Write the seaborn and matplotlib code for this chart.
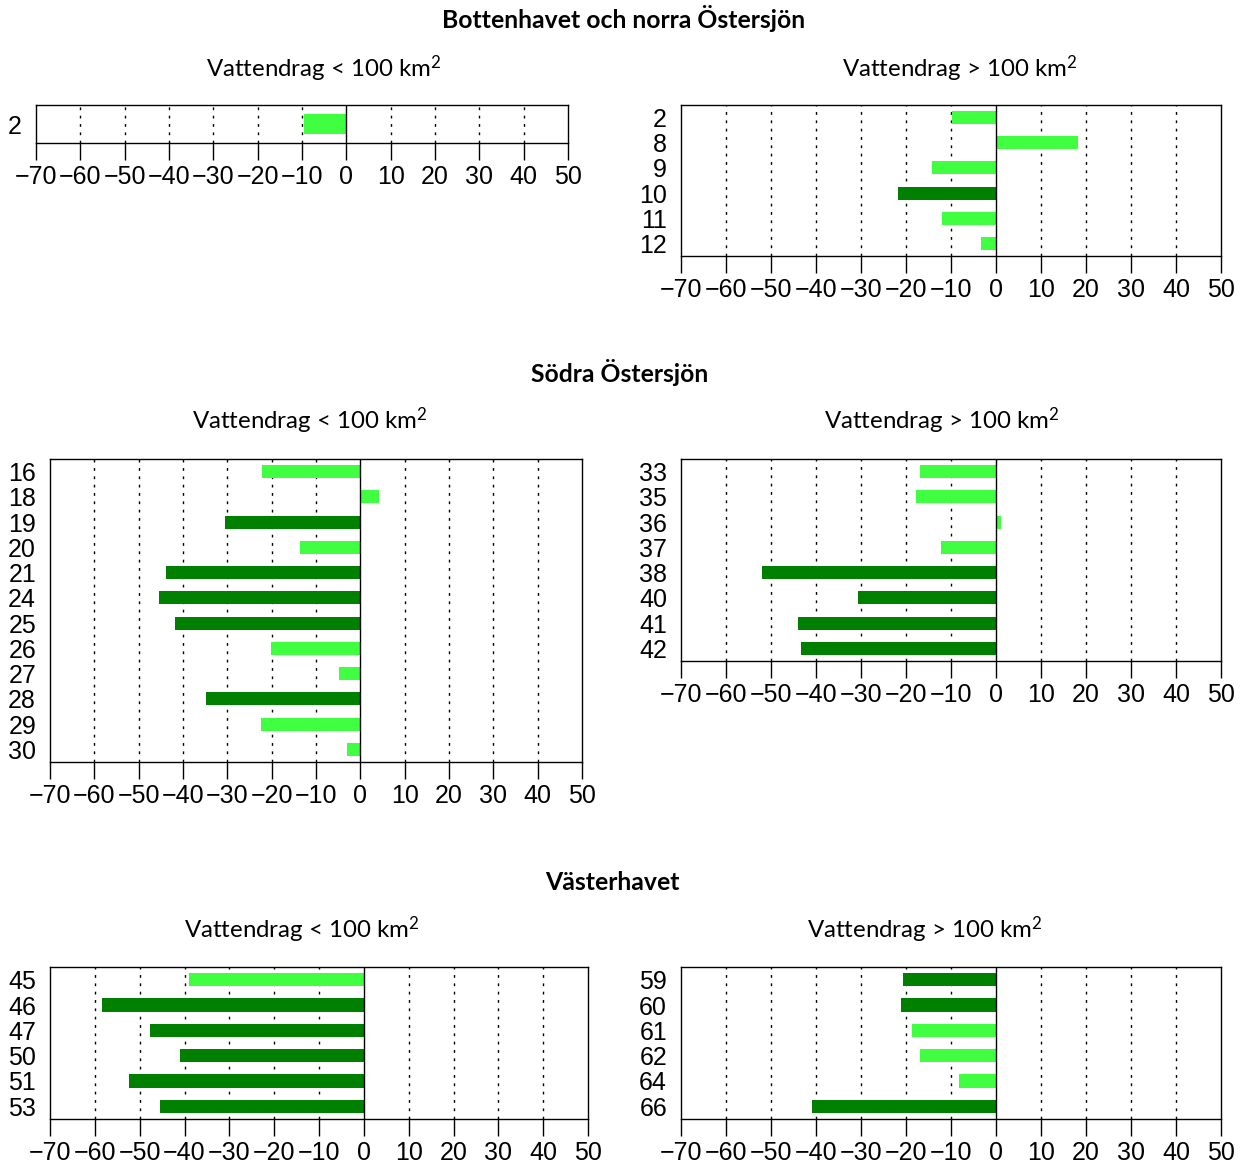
import matplotlib
matplotlib.use("Agg")
import matplotlib.pyplot as plt
import seaborn as sns
import pandas as pd

sns.set_theme(style="white")
plt.rcParams["font.family"] = ["Liberation Sans", "DejaVu Sans"]
plt.rcParams["mathtext.fontset"] = "custom"
plt.rcParams["mathtext.rm"] = "Lato"
plt.rcParams["mathtext.it"] = "Lato:italic"
plt.rcParams["mathtext.bf"] = "Lato:bold"

# Förändring (%) per station och område; "sig" = signifikant trend
p1_stations = ["2"]
p1_values = [-9.6]
p1_sig = ["ns"]

p2_stations = ["2", "8", "9", "10", "11", "12"]
p2_values = [-9.8, 18.3, -14.2, -21.8, -12.0, -3.3]
p2_sig = ["ns", "ns", "ns", "sig", "ns", "ns"]

p3_stations = ["16", "18", "19", "20", "21", "24", "25", "26", "27", "28", "29", "30"]
p3_values = [-22.2, 4.3, -30.6, -13.6, -43.9, -45.5, -41.7, -20.1, -4.8, -34.8, -22.4, -2.9]
p3_sig = ["ns", "ns", "sig", "ns", "sig", "sig", "sig", "ns", "ns", "sig", "ns", "ns"]

p4_stations = ["33", "35", "36", "37", "38", "40", "41", "42"]
p4_values = [-16.8, -17.7, 1.0, -12.2, -52.1, -30.6, -44.1, -43.4]
p4_sig = ["ns", "ns", "ns", "ns", "sig", "sig", "sig", "sig"]

p5_stations = ["45", "46", "47", "50", "51", "53"]
p5_values = [-39.1, -58.5, -47.8, -40.9, -52.4, -45.5]
p5_sig = ["ns", "sig", "sig", "sig", "sig", "sig"]

p6_stations = ["59", "60", "61", "62", "64", "66"]
p6_values = [-20.7, -21.1, -18.7, -16.9, -8.3, -41.0]
p6_sig = ["sig", "sig", "ns", "ns", "ns", "sig"]

x_ticks = [-70, -60, -50, -40, -30, -20, -10, 0, 10, 20, 30, 40, 50]

section_titles = ["Bottenhavet och norra Östersjön", "Södra Östersjön", "Västerhavet"]
small_title = "Vattendrag < 100 km$^\\mathrm{2}$"
large_title = "Vattendrag > 100 km$^\\mathrm{2}$"

palette = {"ns": "#40ff40", "sig": "#008000"}

W, H = 1248, 1165
fig = plt.figure(figsize=(W / 100, H / 100), dpi=100)


def px_axes(x0, y0, x1, y1):
    return fig.add_axes([x0 / W, 1 - y1 / H, (x1 - x0) / W, (y1 - y0) / H])


def panel(box, stations, values, sig, single=False):
    ax = px_axes(*box)
    df = pd.DataFrame({"station": stations, "value": values, "sig": sig})
    for t in x_ticks[1:-1]:
        if t != 0:
            ax.axvline(t, color="black", lw=1.0, ls=(0, (2, 4)), zorder=0)
    sns.barplot(data=df, x="value", y="station", hue="sig", palette=palette,
                hue_order=["ns", "sig"], order=stations, dodge=False,
                width=0.52, orient="h", legend=False, saturation=1, ax=ax,
                edgecolor="none", linewidth=0)
    ax.axvline(0, color="black", lw=1.0, zorder=3)
    ax.set_xlim(-70, 50)
    n = len(stations)
    if single:
        ax.set_ylim(0.48, -0.48)
    else:
        ax.set_ylim(n - 0.5, -0.5)
    ax.set_xticks(x_ticks)
    ax.set_xticklabels([f"\u2212{abs(t)}" if t < 0 else str(t) for t in x_ticks])
    ax.set_xlabel("")
    ax.set_ylabel("")
    ax.tick_params(axis="x", bottom=True, direction="out", length=12, width=1.0,
                   color="black", labelsize=18, pad=4, labelcolor="black")
    ax.tick_params(axis="y", left=False, length=0, labelsize=18, pad=10,
                   labelcolor="black")
    for s in ax.spines.values():
        s.set_visible(True)
        s.set_color("black")
        s.set_linewidth(1.0)
    ax.grid(False)
    return ax


panel((36, 105, 568, 143), p1_stations, p1_values, p1_sig, single=True)
panel((681, 105, 1221, 256), p2_stations, p2_values, p2_sig)
panel((50, 459, 582, 762), p3_stations, p3_values, p3_sig)
panel((681, 459, 1221, 661), p4_stations, p4_values, p4_sig)
panel((50, 967, 588, 1119), p5_stations, p5_values, p5_sig)
panel((681, 967, 1221, 1119), p6_stations, p6_values, p6_sig)

title_font = ["Lato", "DejaVu Sans"]


def ftext(x, y, s, va="center", **kw):
    fig.text(x / W, 1 - y / H, s, ha="center", va=va, family=title_font,
             color="black", **kw)


ftext(624, 18, section_titles[0], fontsize=17.8, fontweight="bold")
ftext(620, 373, section_titles[1], fontsize=17.8, fontweight="bold")
ftext(612, 882, section_titles[2], fontsize=17.8, fontweight="bold")

ftext(324, 77, small_title, va="baseline", fontsize=17.3)
ftext(960, 77, large_title, va="baseline", fontsize=17.3)
ftext(310, 429, small_title, va="baseline", fontsize=17.3)
ftext(942, 429, large_title, va="baseline", fontsize=17.3)
ftext(302, 938, small_title, va="baseline", fontsize=17.3)
ftext(925, 938, large_title, va="baseline", fontsize=17.3)

fig.savefig("out.png", dpi=100, facecolor="white")
